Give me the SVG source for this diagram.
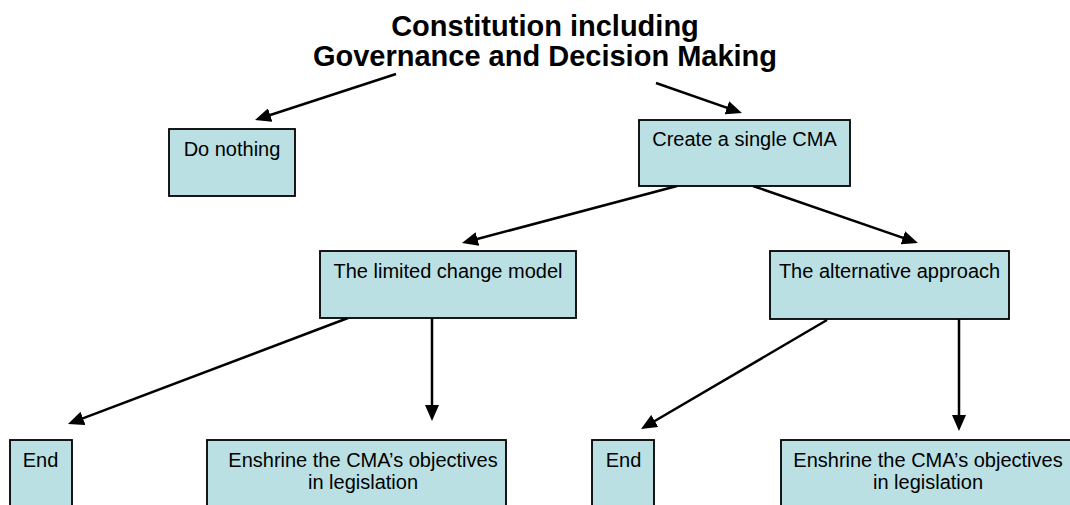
<svg xmlns="http://www.w3.org/2000/svg" width="1070" height="505" viewBox="0 0 1070 505">
<style>
  .box { fill: #BBE0E3; stroke: #000; stroke-width: 1.8; }
  .lbl { font-family: "Liberation Sans", Arial, sans-serif; font-size: 20px; fill: #000; text-anchor: middle; }
  .title { font-family: "Liberation Sans", Arial, sans-serif; font-size: 29px; font-weight: bold; fill: #000; text-anchor: middle; }
  .conn { stroke: #000; stroke-width: 2.5; fill: none; marker-end: url(#arrow); }
</style>
<defs>
  <marker id="arrow" markerUnits="userSpaceOnUse" markerWidth="16" markerHeight="14" refX="8" refY="7" orient="auto">
    <path d="M0,0 L16,7 L0,14 z" fill="#000"/>
  </marker>
</defs>
<rect width="1070" height="505" fill="#fff"/>
<g id="title">
  <text class="title" x="545" y="36">Constitution including</text>
  <text class="title" x="545" y="66">Governance and Decision Making</text>
</g>
<g id="connectors">
  <line class="conn" x1="396" y1="74" x2="262.6" y2="117.5"/>
  <line class="conn" x1="656" y1="83" x2="734.4" y2="110.4"/>
  <line class="conn" x1="677" y1="186" x2="469.7" y2="241"/>
  <line class="conn" x1="753" y1="186" x2="910.4" y2="240.4"/>
  <line class="conn" x1="348" y1="318" x2="75.5" y2="421.2"/>
  <line class="conn" x1="432" y1="318" x2="432" y2="413"/>
  <line class="conn" x1="827" y1="320" x2="647.9" y2="425"/>
  <line class="conn" x1="959" y1="318" x2="959" y2="423"/>
</g>
<g id="do-nothing">
  <rect class="box" x="169" y="129" width="126" height="67"/>
  <text class="lbl" x="232" y="156">Do nothing</text>
</g>
<g id="create-cma">
  <rect class="box" x="639" y="120" width="211" height="66"/>
  <text class="lbl" x="744.5" y="146">Create a single CMA</text>
</g>
<g id="limited-change">
  <rect class="box" x="320" y="251" width="256" height="67"/>
  <text class="lbl" x="448" y="278">The limited change model</text>
</g>
<g id="alternative">
  <rect class="box" x="770" y="251" width="239" height="68"/>
  <text class="lbl" x="889.5" y="278">The alternative approach</text>
</g>
<g id="end-left">
  <rect class="box" x="10" y="440" width="62" height="67"/>
  <text class="lbl" x="40.5" y="467">End</text>
</g>
<g id="enshrine-left">
  <rect class="box" x="207" y="440" width="299" height="67"/>
  <text class="lbl" x="363" y="467">Enshrine the CMA’s objectives</text>
  <text class="lbl" x="363" y="489">in legislation</text>
</g>
<g id="end-right">
  <rect class="box" x="592" y="440" width="62" height="67"/>
  <text class="lbl" x="623.5" y="467">End</text>
</g>
<g id="enshrine-right">
  <rect class="box" x="781" y="440" width="299" height="67"/>
  <text class="lbl" x="928" y="467">Enshrine the CMA’s objectives</text>
  <text class="lbl" x="928" y="489">in legislation</text>
</g>
</svg>
